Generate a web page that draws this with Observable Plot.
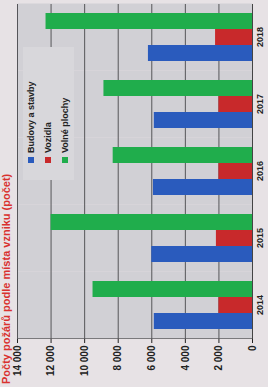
<!DOCTYPE html>
<html><head><meta charset="utf-8">
<script src="https://cdn.jsdelivr.net/npm/d3@7"></script>
<script src="https://cdn.jsdelivr.net/npm/@observablehq/plot@0.6"></script>
<style>
html,body{margin:0;padding:0;width:268px;height:387px;overflow:hidden;background:#e7e2e5;}
#rot{position:absolute;left:0;top:387px;width:387px;height:268px;transform-origin:0 0;transform:rotate(-90deg);font-family:"Liberation Sans",Arial,sans-serif;}
#title{position:absolute;left:3px;top:0px;white-space:nowrap;font-size:11px;line-height:12px;font-weight:bold;color:#d9312f;}
#legend{position:absolute;left:207px;top:22.5px;width:133px;height:51px;background:#d8d7db;}
.row{height:17px;display:flex;align-items:center;font-size:9px;font-weight:bold;color:#222;}
.sw{width:6px;height:6px;margin-left:17px;margin-right:4px;}
#chart{position:absolute;left:0;top:0;}
g[aria-label^="fx-axis"] text{font-size:9px;}
</style>
</head><body>
<div id="rot">
  <div id="chart"></div>
  <div id="legend"></div>
  <div id="title"></div>
</div>
<script>
const titleText = "Počty požárů podle místa vzniku (počet)";
const years = ["2014", "2015", "2016", "2017", "2018"];
const series = ["Budovy a stavby", "Vozidla", "Volné plochy"];
const colors = ["#2a5bbd", "#c8292b", "#20ad4c"];
const budovy = [5850, 6000, 5900, 5850, 6200];
const vozidla = [2000, 2150, 2000, 2000, 2200];
const volne = [9500, 12000, 8300, 8850, 12300];
const yTicks = [0, 2000, 4000, 6000, 8000, 10000, 12000, 14000];

const values = [budovy, vozidla, volne];
const data = years.flatMap((yr, i) => series.map((s, j) => ({year: yr, s, v: values[j][i]})));

const fmt = d3.formatLocale({decimal: ",", thousands: " ", grouping: [3], currency: ["", ""]}).format(",d");

document.getElementById("title").textContent = titleText;
const leg = document.getElementById("legend");
series.forEach((s, i) => {
  const r = document.createElement("div"); r.className = "row";
  const sw = document.createElement("div"); sw.className = "sw"; sw.style.background = colors[i];
  const t = document.createElement("span"); t.textContent = s;
  r.appendChild(sw); r.appendChild(t); leg.appendChild(r);
});

const chart = Plot.plot({
  width: 387, height: 268,
  marginLeft: 46, marginRight: 3, marginTop: 17, marginBottom: 16,
  style: {background: "transparent", fontFamily: "'Liberation Sans', Arial, sans-serif", fontSize: "10px", fontWeight: "bold", color: "#222", overflow: "visible"},
  facet: {data, x: "year"},
  fx: {domain: years, paddingInner: 0, paddingOuter: 0, label: null, axis: "bottom", tickSize: 0, tickPadding: 4},
  x: {domain: series, axis: null, paddingInner: 0, paddingOuter: 0.5},
  y: {domain: [0, 14000], ticks: yTicks, tickFormat: fmt, tickSize: 4, tickPadding: 3, label: null, line: true},
  color: {domain: series, range: colors},
  marks: [
    Plot.frame({fill: "#d1d0d5", stroke: null}),
    Plot.ruleY(yTicks, {stroke: "#555559", strokeWidth: 1}),
    Plot.barY(data, {x: "s", y: "v", fill: "s"}),
    Plot.ruleY([0], {stroke: "#444"})
  ]
});
document.getElementById("chart").appendChild(chart);
</script>
</body></html>
